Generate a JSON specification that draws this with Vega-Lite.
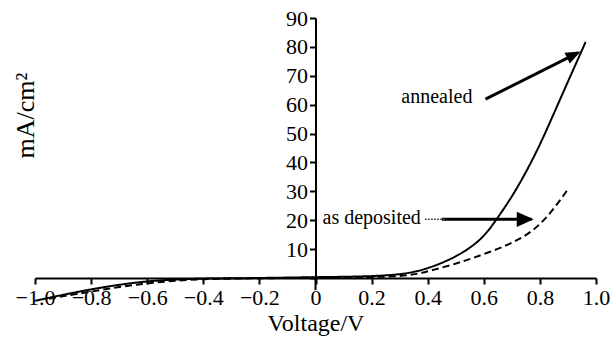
{
  "$schema": "https://vega.github.io/schema/vega-lite/v6.json",
  "width": 561,
  "height": 260,
  "autosize": {"type": "none"},
  "padding": {"left": 35, "top": 18, "right": 16, "bottom": 63},
  "background": "white",
  "config": {
    "view": {"stroke": null},
    "font": "Liberation Serif",
    "axis": {
      "labelFont": "Liberation Serif", "labelColor": "black",
      "labelFlush": false,
      "tickColor": "black", "tickSize": 6, "tickWidth": 2,
      "domainColor": "black", "domainWidth": 2, "grid": false,
      "titleFont": "Liberation Serif", "titleFontWeight": "normal", "titleColor": "black"
    }
  },
  "datasets": {
    "curves": [
      {"series": "annealed", "v": -1.0, "j": -7.9},
      {"series": "annealed", "v": -0.9, "j": -5.8},
      {"series": "annealed", "v": -0.8, "j": -3.9},
      {"series": "annealed", "v": -0.7, "j": -2.3},
      {"series": "annealed", "v": -0.6, "j": -1.1},
      {"series": "annealed", "v": -0.5, "j": -0.5},
      {"series": "annealed", "v": -0.4, "j": -0.2},
      {"series": "annealed", "v": -0.3, "j": -0.1},
      {"series": "annealed", "v": -0.2, "j": 0.0},
      {"series": "annealed", "v": 0.0, "j": 0.3},
      {"series": "annealed", "v": 0.1, "j": 0.4},
      {"series": "annealed", "v": 0.2, "j": 0.6},
      {"series": "annealed", "v": 0.3, "j": 1.2},
      {"series": "annealed", "v": 0.36, "j": 2.2},
      {"series": "annealed", "v": 0.42, "j": 4.0},
      {"series": "annealed", "v": 0.48, "j": 6.4},
      {"series": "annealed", "v": 0.54, "j": 9.6},
      {"series": "annealed", "v": 0.6, "j": 14.2},
      {"series": "annealed", "v": 0.642, "j": 19.8},
      {"series": "annealed", "v": 0.7, "j": 28.0},
      {"series": "annealed", "v": 0.75, "j": 36.5},
      {"series": "annealed", "v": 0.8, "j": 46.0},
      {"series": "annealed", "v": 0.85, "j": 57.0},
      {"series": "annealed", "v": 0.9, "j": 68.0},
      {"series": "annealed", "v": 0.93, "j": 74.5},
      {"series": "annealed", "v": 0.963, "j": 81.7},
      {"series": "as deposited", "v": -0.95, "j": -7.2},
      {"series": "as deposited", "v": -0.9, "j": -6.3},
      {"series": "as deposited", "v": -0.8, "j": -4.7},
      {"series": "as deposited", "v": -0.7, "j": -3.1},
      {"series": "as deposited", "v": -0.6, "j": -1.8},
      {"series": "as deposited", "v": -0.5, "j": -0.9},
      {"series": "as deposited", "v": -0.4, "j": -0.4},
      {"series": "as deposited", "v": -0.3, "j": -0.2},
      {"series": "as deposited", "v": -0.2, "j": -0.1},
      {"series": "as deposited", "v": 0.0, "j": 0.1},
      {"series": "as deposited", "v": 0.2, "j": 0.3},
      {"series": "as deposited", "v": 0.3, "j": 0.6},
      {"series": "as deposited", "v": 0.36, "j": 1.3},
      {"series": "as deposited", "v": 0.42, "j": 2.8},
      {"series": "as deposited", "v": 0.5, "j": 4.9},
      {"series": "as deposited", "v": 0.564, "j": 7.0},
      {"series": "as deposited", "v": 0.65, "j": 10.0},
      {"series": "as deposited", "v": 0.719, "j": 13.0},
      {"series": "as deposited", "v": 0.77, "j": 16.0},
      {"series": "as deposited", "v": 0.813, "j": 19.8},
      {"series": "as deposited", "v": 0.85, "j": 24.0},
      {"series": "as deposited", "v": 0.897, "j": 30.3}
    ],
    "arrows": [
      {"name": "annealed", "v": 0.606, "j": 61.9, "v2": 0.935, "j2": 77.9},
      {"name": "as deposited", "v": 0.45, "j": 20.3, "v2": 0.77, "j2": 20.3}
    ],
    "heads": [
      {"name": "annealed", "v": 0.945, "j": 78.4},
      {"name": "as deposited", "v": 0.778, "j": 20.3}
    ],
    "labels": [
      {"text": "annealed", "v": 0.306, "j": 62.7},
      {"text": "as deposited", "v": 0.025, "j": 20.7}
    ]
  },
  "layer": [
    {
      "data": {"name": "curves"},
      "mark": {"type": "line", "color": "black", "strokeWidth": 2, "interpolate": "basis"},
      "encoding": {
        "x": {
          "field": "v", "type": "quantitative",
          "scale": {"domain": [-1, 1], "nice": false, "zero": false},
          "axis": {
            "tickCount": 10,
            "labelExpr": "datum.value == 0 ? '0' : format(datum.value, '.1f')",
            "labelFontSize": 22,
            "labelPadding": 3, "labelOverlap": false,
            "title": "Voltage/V", "titleFontSize": 24, "titlePadding": 3
          }
        },
        "y": {
          "field": "j", "type": "quantitative",
          "scale": {"domain": [0, 90], "nice": false},
          "axis": {
            "offset": -280.5,
            "tickCount": 9,
            "labelExpr": "datum.value == 0 ? '' : format(datum.value, 'd')",
            "labelFontSize": 22, "labelBaseline": "middle",
            "labelPadding": 2, "labelOverlap": false,
            "title": "mA/cm²", "titleFontSize": 26,
            "titleAngle": -90, "titleX": -290, "titleY": 97,
            "titleAlign": "center", "titleBaseline": "middle"
          }
        },
        "strokeDash": {
          "field": "series", "type": "nominal",
          "scale": {"domain": ["annealed", "as deposited"], "range": [[1, 0], [7, 4]]},
          "legend": null
        }
      }
    },
    {
      "data": {"values": [{"v": 0, "j": 0, "j2": -4.2}]},
      "mark": {"type": "rule", "color": "black", "strokeWidth": 2},
      "encoding": {
        "x": {"field": "v", "type": "quantitative"},
        "y": {"field": "j", "type": "quantitative"},
        "y2": {"field": "j2"}
      }
    },
    {
      "data": {"name": "arrows"},
      "mark": {"type": "rule", "color": "black", "strokeWidth": 3},
      "encoding": {
        "x": {"field": "v", "type": "quantitative"},
        "y": {"field": "j", "type": "quantitative"},
        "x2": {"field": "v2"},
        "y2": {"field": "j2"}
      }
    },
    {
      "data": {"values": [{"v": 0.39, "j": 20.3, "v2": 0.46}]},
      "mark": {"type": "rule", "color": "#555555", "strokeWidth": 1.5, "strokeDash": [2, 1]},
      "encoding": {
        "x": {"field": "v", "type": "quantitative"},
        "y": {"field": "j", "type": "quantitative"},
        "x2": {"field": "v2"}
      }
    },
    {
      "data": {"name": "heads"},
      "transform": [{"filter": "datum.name == 'annealed'"}],
      "mark": {"type": "point", "shape": "M0,0L-2,-0.8L-2,0.8Z", "filled": true, "color": "black", "opacity": 1, "size": 225, "angle": 333.4},
      "encoding": {
        "x": {"field": "v", "type": "quantitative"},
        "y": {"field": "j", "type": "quantitative"}
      }
    },
    {
      "data": {"name": "heads"},
      "transform": [{"filter": "datum.name == 'as deposited'"}],
      "mark": {"type": "point", "shape": "M0,0L-2,-0.9L-2,0.9Z", "filled": true, "color": "black", "opacity": 1, "size": 289, "angle": 0},
      "encoding": {
        "x": {"field": "v", "type": "quantitative"},
        "y": {"field": "j", "type": "quantitative"}
      }
    },
    {
      "data": {"name": "labels"},
      "mark": {"type": "text", "font": "Liberation Serif", "fontSize": 20, "align": "left", "baseline": "middle", "color": "black"},
      "encoding": {
        "x": {"field": "v", "type": "quantitative"},
        "y": {"field": "j", "type": "quantitative"},
        "text": {"field": "text"}
      }
    }
  ]
}
